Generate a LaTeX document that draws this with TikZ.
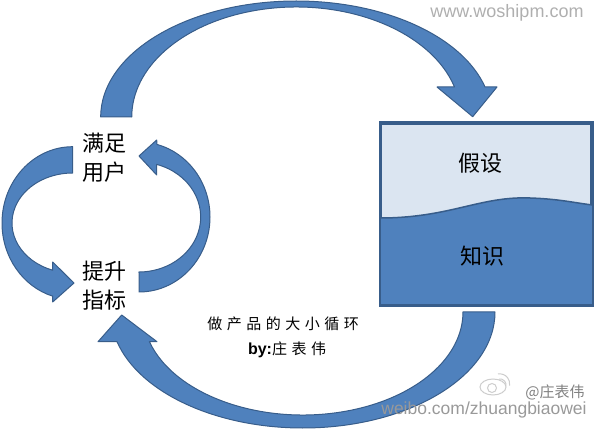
\documentclass[tikz,border=0pt]{standalone}
\usepackage{fontspec}
\setmainfont{Liberation Sans}
\newfontfamily\cjk{Noto Sans CJK SC}
\newfontfamily\cjkspaced[LetterSpace=30]{Noto Sans CJK SC}
\usetikzlibrary{calc}
\definecolor{arrowfill}{RGB}{79,129,189}
\definecolor{arrowline}{RGB}{56,93,138}
\definecolor{hypofill}{RGB}{219,229,241}
\definecolor{markgray}{RGB}{175,175,175}
\definecolor{logogray}{RGB}{205,205,205}

\begin{document}
\begin{tikzpicture}[
    x=1pt, y=1pt,
    bigarrow/.style={fill=arrowfill, draw=arrowline, line width=1pt, line join=round},
    cyclelabel/.style={font=\cjk\fontsize{22}{29}\selectfont, align=center, inner sep=0pt},
    captiontext/.style={font=\cjkspaced\fontsize{15}{20}\selectfont, inner sep=0pt},
    watermark/.style={text=markgray, inner sep=0pt},
]
\useasboundingbox (0,0) rectangle (595,429);

% hypothesis / knowledge box
\node[draw=arrowline, line width=2.5pt, fill=hypofill, minimum width=210.5pt, minimum height=180.5pt, inner sep=0pt] (box) at (486.25,214.75) {};
\fill[arrowfill] (box.west |- 0,211) .. controls (450,211) and (480,233) .. (530,231)
    .. controls (560,230) and (575,226) .. (box.east |- 0,224) -- (box.south east) -- (box.south west) -- cycle;
\draw[arrowline, line width=1.5pt] (box.west |- 0,211) .. controls (450,211) and (480,233) .. (530,231)
    .. controls (560,230) and (575,226) .. (box.east |- 0,224);
\draw[arrowline, line width=2.5pt] (box.south west) rectangle (box.north east);
\node[cyclelabel] (hypo) at (480,266) {假设};
\node[cyclelabel] (know) at (482,173) {知识};

% small cycle
\node[cyclelabel] (users)  at (104,271) {满足\\用户};
\node[cyclelabel] (metric) at (104,143) {提升\\指标};

% users -> box (big cycle, top)
\draw[bigarrow] (131.7,312) -- (100.7,312)
    arc[start angle=180, end angle=15, x radius=195.5, y radius=116]
    -- (497,342) -- (472.7,312.3) -- (437,342) -- (454.5,342)
    arc[start angle=15.83, end angle=180, x radius=164.5, y radius=110] -- cycle;
% box -> metric (big cycle, bottom)
\draw[bigarrow] (463,117) -- (495,117)
    arc[start angle=0, end angle=-165.2, x radius=192.2, y radius=116]
    -- (98,87.3) -- (121.7,114) -- (157,87.3) -- (149.4,87.3)
    arc[start angle=-163.24, end angle=0, x radius=160.2, y radius=103] -- cycle;
% users -> metric
\draw[bigarrow] (72.7,256) -- (72.7,282.3)
    arc[start angle=90, end angle=253.6, x radius=70.7, y radius=76.3]
    -- (52.7,127) -- (74,146) -- (52.7,167) -- (52.7,158.8)
    arc[start angle=250.76, end angle=90, x radius=60.7, y radius=50] -- cycle;
% metric -> users
\draw[bigarrow] (139,157) -- (139,137)
    arc[start angle=-90, end angle=75.3, x radius=71, y radius=75]
    -- (156.7,289) -- (139,273) -- (156.7,254) -- (156.7,264.6)
    arc[start angle=73.12, end angle=-90, x radius=62, y radius=55] -- cycle;

% caption
\node[captiontext] (title)  at (283,105) {做产品的大小循环};
\node[captiontext] (byline) at (287,79) {{\rmfamily\bfseries\fontsize{16}{20}\selectfont by:}庄表伟};

% watermarks
\node[watermark, font=\fontsize{18}{20}\selectfont] (site) at (507,416) {www.woshipm.com};
\draw[logogray, line width=1pt] (493,42) ellipse (13 and 8);
\draw[logogray, line width=1pt] (492,41) circle (4.5);
\draw[logogray, line width=1pt] (499,50) arc[start angle=100, end angle=-10, radius=6];
\draw[logogray, line width=1pt] (498,55) arc[start angle=100, end angle=-10, radius=10];
\node[watermark, text=gray, font=\cjk\fontsize{15}{18}\selectfont] (weiboname) at (555,37) {@庄表伟};
\node[watermark, text=gray!80, font=\fontsize{17.5}{20}\selectfont] (weibourl) at (484,19) {weibo.com/zhuangbiaowei};
\end{tikzpicture}
\end{document}
